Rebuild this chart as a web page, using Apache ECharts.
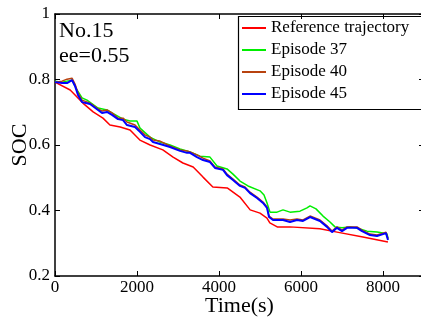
<!DOCTYPE html>
<html>
<head>
<meta charset="utf-8">
<script src="https://cdn.jsdelivr.net/npm/echarts@6/dist/echarts.min.js"></script>
<style>
  html, body { margin: 0; padding: 0; background: #fff; }
  #main { width: 421px; height: 322px; }
</style>
</head>
<body>
<div id="main"></div>
<script>
// values
var seriesNames = ['Reference trajectory', 'Episode 37', 'Episode 40', 'Episode 45'];
var seriesColors = ['#ff0000', '#00ee00', '#b8420f', '#0000ff'];

var refTime = [0, 370, 680, 930, 1170, 1340, 1590, 1830, 2070, 2320, 2630, 2880, 3120, 3370, 3610, 3850, 4200, 4510, 4760, 5000, 5170, 5240, 5420, 5730, 6460, 6880, 7510, 8120];
var refSoc = [0.792, 0.768, 0.728, 0.701, 0.682, 0.661, 0.655, 0.646, 0.615, 0.600, 0.585, 0.563, 0.545, 0.533, 0.502, 0.472, 0.469, 0.441, 0.402, 0.392, 0.377, 0.362, 0.350, 0.350, 0.344, 0.334, 0.319, 0.304];

var ep37Time = [0, 171, 293, 415, 537, 659, 780, 1049, 1268, 1390, 1659, 1829, 2000, 2073, 2317, 2561, 2805, 3049, 3293, 3537, 3780, 3951, 4195, 4341, 4512, 4707, 5000, 5098, 5171, 5244, 5415, 5561, 5732, 5976, 6146, 6220, 6366, 6537, 6707, 6829, 7000, 7195, 7439, 7610, 7854, 8000, 8098, 8122];
var ep37Soc = [0.795, 0.792, 0.795, 0.798, 0.768, 0.744, 0.737, 0.713, 0.707, 0.698, 0.679, 0.673, 0.673, 0.652, 0.624, 0.609, 0.600, 0.588, 0.579, 0.566, 0.563, 0.536, 0.527, 0.511, 0.490, 0.475, 0.460, 0.447, 0.423, 0.395, 0.395, 0.402, 0.395, 0.398, 0.408, 0.414, 0.405, 0.383, 0.365, 0.350, 0.347, 0.350, 0.344, 0.337, 0.334, 0.331, 0.328, 0.316];

var epTime = [0, 171, 293, 415, 488, 561, 659, 854, 1049, 1146, 1268, 1390, 1537, 1659, 1756, 1951, 2073, 2195, 2317, 2390, 2561, 2805, 3049, 3220, 3293, 3463, 3610, 3780, 3902, 4098, 4195, 4341, 4512, 4634, 4756, 4927, 5073, 5171, 5220, 5317, 5561, 5732, 5902, 6049, 6220, 6463, 6634, 6756, 6878, 7000, 7122, 7366, 7488, 7683, 7854, 8000, 8073, 8122];
var ep40Soc = [0.792, 0.795, 0.801, 0.804, 0.786, 0.759, 0.737, 0.728, 0.710, 0.704, 0.707, 0.698, 0.682, 0.682, 0.670, 0.661, 0.646, 0.631, 0.624, 0.615, 0.612, 0.597, 0.585, 0.582, 0.579, 0.570, 0.560, 0.551, 0.533, 0.527, 0.511, 0.496, 0.478, 0.472, 0.456, 0.441, 0.426, 0.411, 0.383, 0.374, 0.374, 0.371, 0.374, 0.371, 0.383, 0.371, 0.353, 0.337, 0.350, 0.340, 0.350, 0.350, 0.340, 0.328, 0.325, 0.331, 0.334, 0.313];
var ep45Soc = [0.792, 0.789, 0.789, 0.798, 0.780, 0.753, 0.731, 0.725, 0.707, 0.698, 0.701, 0.692, 0.679, 0.676, 0.661, 0.655, 0.640, 0.624, 0.618, 0.609, 0.603, 0.594, 0.582, 0.576, 0.576, 0.563, 0.554, 0.548, 0.530, 0.524, 0.508, 0.493, 0.475, 0.469, 0.453, 0.438, 0.423, 0.408, 0.380, 0.371, 0.371, 0.365, 0.371, 0.368, 0.380, 0.368, 0.350, 0.334, 0.347, 0.337, 0.347, 0.347, 0.337, 0.325, 0.322, 0.328, 0.331, 0.310];

var xTicks = [0, 2000, 4000, 6000, 8000];
var yTicks = [0.2, 0.4, 0.6, 0.8, 1];

function pairs(t, v) {
  var out = [];
  for (var i = 0; i < t.length; i++) out.push([t[i], v[i]]);
  return out;
}

var font = 'Liberation Serif, Times New Roman, serif';
var chart = echarts.init(document.getElementById('main'));

var lineAxis = { show: true, onZero: false, lineStyle: { color: '#000', width: 1.5 } };
function ticks(vals) {
  return { show: true, inside: true, length: 5, customValues: vals, lineStyle: { color: '#000', width: 1 } };
}

chart.setOption({
  animation: false,
  textStyle: { fontFamily: font },
  grid: { left: 55, top: 14, width: 369, height: 262, outerBoundsMode: 'none', containLabel: false },
  xAxis: [
    {
      type: 'value', min: 0, max: 9000, position: 'bottom',
      name: 'Time(s)', nameLocation: 'middle', nameGap: 19, nameMoveOverlap: false,
      nameTextStyle: { fontFamily: font, fontSize: 22, color: '#000' },
      axisLine: lineAxis, axisTick: ticks(xTicks), splitLine: { show: false },
      axisLabel: {
        fontFamily: font, fontSize: 17, color: '#000', margin: 3, customValues: xTicks,
        formatter: function (v) { return String(v); }
      }
    },
    {
      type: 'value', min: 0, max: 9000, position: 'top',
      axisLine: lineAxis, axisTick: ticks(xTicks), splitLine: { show: false },
      axisLabel: { show: false }
    }
  ],
  yAxis: [
    {
      type: 'value', min: 0.2, max: 1, position: 'left',
      name: 'SOC', nameLocation: 'middle', nameGap: 24, nameMoveOverlap: false,
      nameTextStyle: { fontFamily: font, fontSize: 22, color: '#000' },
      axisLine: lineAxis, axisTick: ticks(yTicks), splitLine: { show: false },
      axisLabel: {
        fontFamily: font, fontSize: 17, color: '#000', margin: 5, customValues: yTicks,
        formatter: function (v) { return String(Math.round(v * 10) / 10); }
      }
    },
    {
      type: 'value', min: 0.2, max: 1, position: 'right',
      axisLine: lineAxis, axisTick: ticks(yTicks), splitLine: { show: false },
      axisLabel: { show: false }
    }
  ],
  legend: {
    orient: 'vertical', left: 236, top: 14,
    padding: [5.5, 6, 4, 6],
    icon: 'rect', itemWidth: 24, itemHeight: 2, itemGap: 5,
    textStyle: { fontFamily: font, fontSize: 17, lineHeight: 17, color: '#000' },
    data: seriesNames
  },
  graphic: [
    { type: 'rect', left: 236, top: 14, shape: { width: 190, height: 93 },
      style: { fill: 'none', stroke: '#000', lineWidth: 1.2 }, z: 100 },
    { type: 'text', left: 59, top: 20, style: { text: 'No.15', font: '22px ' + font, fill: '#000' } },
    { type: 'text', left: 59, top: 45, style: { text: 'ee=0.55', font: '22px ' + font, fill: '#000' } }
  ],
  series: [
    { name: seriesNames[0], type: 'line', data: pairs(refTime, refSoc), symbol: 'none',
      color: seriesColors[0], lineStyle: { width: 1.5 } },
    { name: seriesNames[1], type: 'line', data: pairs(ep37Time, ep37Soc), symbol: 'none',
      color: seriesColors[1], lineStyle: { width: 1.5 } },
    { name: seriesNames[2], type: 'line', data: pairs(epTime, ep40Soc), symbol: 'none',
      color: seriesColors[2], lineStyle: { width: 1.5 } },
    { name: seriesNames[3], type: 'line', data: pairs(epTime, ep45Soc), symbol: 'none',
      color: seriesColors[3], lineStyle: { width: 2 } }
  ]
});
</script>
</body>
</html>
